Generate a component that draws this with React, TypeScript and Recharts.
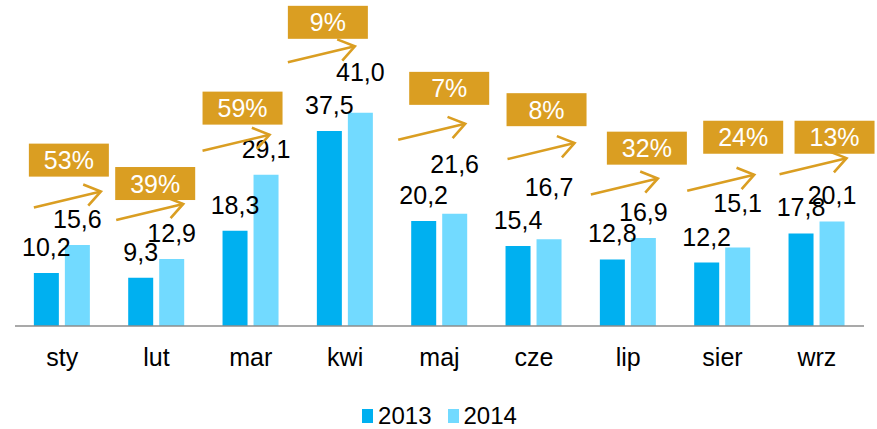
import { BarChart, Bar, XAxis, YAxis, Legend, LabelList } from 'recharts';

const months = ['sty', 'lut', 'mar', 'kwi', 'maj', 'cze', 'lip', 'sier', 'wrz'];
const sales2013 = [10.2, 9.3, 18.3, 37.5, 20.2, 15.4, 12.8, 12.2, 17.8];
const sales2014 = [15.6, 12.9, 29.1, 41.0, 21.6, 16.7, 16.9, 15.1, 20.1];
const growth = ['53%', '39%', '59%', '9%', '7%', '8%', '32%', '24%', '13%'];

// callout placement: levels in value-axis units, shifts in px from the month centre
const arrowLevel = [22.8, 20.4, 33.7, 50.7, 35.8, 32.1, 25.3, 26.0, 29.2];
const boxLevel = [31.9, 27.4, 41.9, 58.4, 45.7, 41.6, 34.2, 36.3, 36.3];
const arrowShift = [-28, -40, -48, -57, -41, -26, -37, -35, -37];
const boxShift = [7, -1, -8, -17, 10, 13, 19, 21, 18];
// extra lift (px) of the 2014 value labels, as placed in the original
const lift2014 = [0, 0, 0, 15, 24, 26, 0, 18, 0];

const data = months.map((m, i) => ({ month: m, y2013: sales2013[i], y2014: sales2014[i] }));

const FONT = '"Liberation Sans", Arial, sans-serif';
const C2013 = '#00B0F0';
const C2014 = '#72DAFF';
const GOLD = '#DA9E22';
const BAR_GAP = 6;

const fmt = (v: number) => v.toFixed(1).replace('.', ',');

const ValueLabel = (props: any) => {
  const { x, y, width, value, lift } = props;
  return (
    <text x={x + width / 2} y={y - 26 - (lift || 0)} dy="0.36em" textAnchor="middle" fontSize={25} fill="#000" fontFamily={FONT}>
      {fmt(Number(value))}
    </text>
  );
};

// 2014 label + growth callout, keyed by month name
const Callout = (props: any) => {
  const { x, y, width, height, value } = props;
  const i = months.indexOf(value);
  if (i < 0) return null;
  const perUnit = height / sales2014[i];
  const base = y + height;
  const cx = x - BAR_GAP / 2;
  const ay = base - arrowLevel[i] * perUnit;
  const by = base - boxLevel[i] * perUnit;
  const x1 = cx + arrowShift[i];
  const x2 = x1 + 67;
  const y2 = ay - 16;
  const ang = Math.atan2(ay - y2, x1 - x2);
  const arm = 19;
  const spread = (35 * Math.PI) / 180;
  const h1 = [x2 + arm * Math.cos(ang + spread), y2 + arm * Math.sin(ang + spread)];
  const h2 = [x2 + arm * Math.cos(ang - spread), y2 + arm * Math.sin(ang - spread)];
  const bx = cx + boxShift[i];
  return (
    <g>
      <ValueLabel x={x} y={y} width={width} value={sales2014[i]} lift={lift2014[i]} />
      <line x1={x1} y1={ay} x2={x2} y2={y2} stroke={GOLD} strokeWidth={2.6} />
      <polyline points={`${h1[0]},${h1[1]} ${x2},${y2} ${h2[0]},${h2[1]}`} fill="none" stroke={GOLD} strokeWidth={2.6} />
      <rect x={bx - 40} y={by - 16.5} width={80} height={33} fill={GOLD} />
      <text x={bx} y={by} dy="0.36em" textAnchor="middle" fontSize={25} fill="#fff" fontFamily={FONT}>
        {growth[i]}
      </text>
    </g>
  );
};

const MonthTick = (props: any) => {
  const { x, y, payload } = props;
  return (
    <text x={x} y={y + 40} textAnchor="middle" fontSize={25} fill="#000" fontFamily={FONT}>
      {payload.value}
    </text>
  );
};

const LegendContent = () => (
  <div
    style={{
      display: 'flex',
      justifyContent: 'center',
      alignItems: 'center',
      height: 40,
      paddingTop: 14,
      boxSizing: 'border-box',
      fontFamily: FONT,
      fontSize: 24,
      color: '#000',
    }}
  >
    {[
      { name: '2013', color: C2013 },
      { name: '2014', color: C2014 },
    ].map((item) => (
      <span key={item.name} style={{ display: 'flex', alignItems: 'center', margin: '0 8px' }}>
        <span style={{ width: 11, height: 14, background: item.color, marginRight: 5 }} />
        {item.name}
      </span>
    ))}
  </div>
);

export default function App() {
  return (
    <div style={{ position: 'absolute', left: 0, top: 0, background: '#fff' }}>
      <BarChart
        width={877}
        height={429}
        data={data}
        margin={{ top: 14, right: 13, left: 15, bottom: 0 }}
        barCategoryGap="20%"
        barGap={BAR_GAP}
      >
        <XAxis
          dataKey="month"
          axisLine={{ stroke: '#8C8C8C', strokeWidth: 1.5 }}
          tickLine={false}
          tickSize={0}
          tickMargin={0}
          height={63}
          interval={0}
          tick={<MonthTick />}
        />
        <YAxis hide domain={[0, 60]} />
        <Legend verticalAlign="bottom" height={40} content={<LegendContent />} />
        <Bar dataKey="y2013" fill={C2013} isAnimationActive={false}>
          <LabelList dataKey="y2013" content={<ValueLabel />} />
        </Bar>
        <Bar dataKey="y2014" fill={C2014} isAnimationActive={false}>
          <LabelList dataKey="month" content={<Callout />} />
        </Bar>
      </BarChart>
    </div>
  );
}
